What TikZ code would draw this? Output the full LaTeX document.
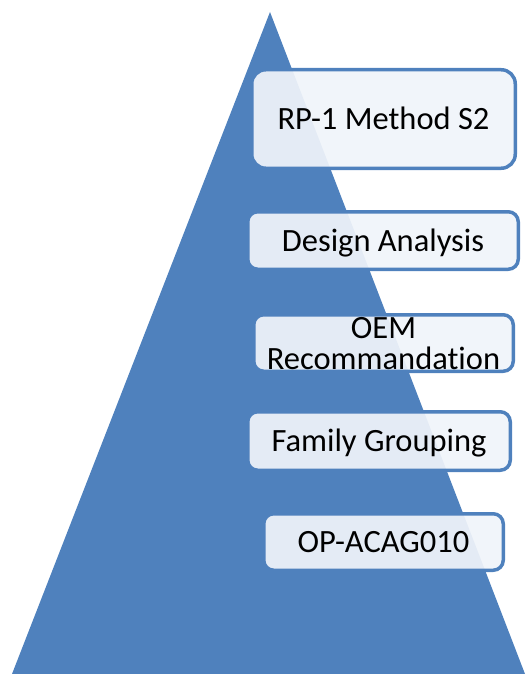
\documentclass[tikz,border=0pt]{standalone}
\usepackage{fontspec}
\setmainfont[Ligatures=NoCommon]{Carlito}
\definecolor{accent}{RGB}{79,129,189}
\definecolor{boxfill}{RGB}{240,244,250}
\tikzset{
  pbox/.style={draw=accent, line width=3.5pt, rounded corners=10pt,
    fill=boxfill, fill opacity=0.93, text opacity=1, inner sep=0pt,
    font=\fontsize{32.5}{31}\selectfont, text=black,
    text height=21pt, text depth=0pt, align=center},
}
\begin{document}
\begin{tikzpicture}[x=1pt,y=-1pt]
\useasboundingbox (0,0) rectangle (527,674);
\coordinate (apex) at (270,12);
\coordinate (bl) at (12,674);
\coordinate (br) at (525,674);
\fill[accent] (apex) -- (br) -- (bl) -- cycle;
\node[pbox, rounded corners=14pt, minimum width=263.5pt, minimum height=98.5pt] (rp) at (383.5,119) {RP-1 Method\ S2};
\node[pbox, minimum width=270.5pt, minimum height=57.5pt] (da) at (383,240.5) {Design Analysis};
\node[pbox, minimum width=259.5pt, minimum height=56.5pt, text height=52pt] (oem) at (383.5,343) {OEM\\Recommandation};
\node[pbox, minimum width=262.5pt, minimum height=58.5pt] (fg) at (379,441) {Family Grouping};
\node[pbox, minimum width=239.5pt, minimum height=56.5pt] (op) at (383.5,542) {OP-ACAG010};
\end{tikzpicture}
\end{document}
